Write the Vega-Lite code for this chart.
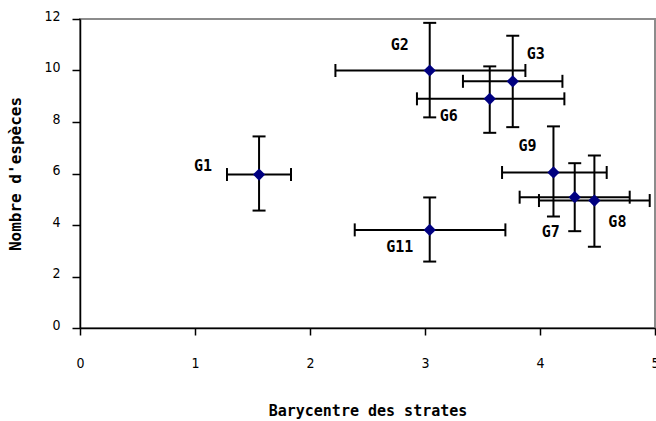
{
  "$schema": "https://vega.github.io/schema/vega-lite/v6.json",
  "width": 575,
  "height": 309,
  "autosize": {"type": "none"},
  "padding": {"left": 80, "top": 19, "right": 1, "bottom": 93},
  "background": "white",
  "config": {
    "view": {"stroke": "#8c8c8c", "strokeWidth": 2},
    "axis": {
      "grid": false,
      "domainColor": "black",
      "domainWidth": 1.5,
      "tickColor": "black",
      "tickWidth": 1.5,
      "labelColor": "black",
      "labelFont": "Liberation Sans Narrow, DejaVu Sans Condensed, Roboto, sans-serif",
      "labelFontSize": 14,
      "format": "d",
      "titleColor": "black",
      "titleFont": "DejaVu Sans Mono",
      "titleFontWeight": "bold"
    },
    "axisX": {"tickSize": 7, "labelPadding": 21, "labelFlush": false, "titleFontSize": 15, "titlePadding": 33},
    "axisY": {"tickSize": 8, "labelPadding": 12, "labelOffset": -3, "titleFontSize": 16, "titlePadding": 20}
  },
  "data": {
    "values": [
      {"g": "G1", "x": 1.557, "xlo": 1.278, "xhi": 1.835, "y": 5.96, "ylo": 4.56, "yhi": 7.44},
      {"g": "G2", "x": 3.041, "xlo": 2.221, "xhi": 3.873, "y": 10.0, "ylo": 8.18, "yhi": 11.85},
      {"g": "G3", "x": 3.763, "xlo": 3.33, "xhi": 4.195, "y": 9.58, "ylo": 7.8, "yhi": 11.35},
      {"g": "G6", "x": 3.563, "xlo": 2.93, "xhi": 4.212, "y": 8.9, "ylo": 7.58, "yhi": 10.16},
      {"g": "G9", "x": 4.117, "xlo": 3.67, "xhi": 4.58, "y": 6.04, "ylo": 4.33, "yhi": 7.83},
      {"g": "G7", "x": 4.302, "xlo": 3.823, "xhi": 4.78, "y": 5.08, "ylo": 3.76, "yhi": 6.4},
      {"g": "G8", "x": 4.473, "xlo": 3.991, "xhi": 4.954, "y": 4.95, "ylo": 3.16, "yhi": 6.7},
      {"g": "G11", "x": 3.041, "xlo": 2.389, "xhi": 3.699, "y": 3.81, "ylo": 2.58, "yhi": 5.07}
    ]
  },
  "layer": [
    {
      "mark": {"type": "rule", "color": "black", "strokeWidth": 2},
      "encoding": {
        "x": {"field": "xlo", "type": "quantitative", "title": "Barycentre des strates", "scale": {"domain": [0, 5], "nice": false, "zero": false}, "axis": {"values": [0, 1, 2, 3, 4, 5], "format": "d"}},
        "x2": {"field": "xhi"},
        "y": {"field": "y", "type": "quantitative", "title": "Nombre d'espèces", "scale": {"domain": [0, 12], "nice": false}, "axis": {"values": [0, 2, 4, 6, 8, 10, 12], "format": "d"}}
      }
    },
    {
      "mark": {"type": "rule", "color": "black", "strokeWidth": 2},
      "encoding": {
        "x": {"field": "x", "type": "quantitative", "title": "Barycentre des strates"},
        "y": {"field": "ylo", "type": "quantitative", "title": "Nombre d'espèces"},
        "y2": {"field": "yhi"}
      }
    },
    {
      "mark": {"type": "tick", "orient": "vertical", "color": "black", "size": 13, "thickness": 2, "opacity": 1},
      "encoding": {
        "x": {"field": "xlo", "type": "quantitative", "title": "Barycentre des strates"},
        "y": {"field": "y", "type": "quantitative", "title": "Nombre d'espèces"}
      }
    },
    {
      "mark": {"type": "tick", "orient": "vertical", "color": "black", "size": 13, "thickness": 2, "opacity": 1},
      "encoding": {
        "x": {"field": "xhi", "type": "quantitative", "title": "Barycentre des strates"},
        "y": {"field": "y", "type": "quantitative", "title": "Nombre d'espèces"}
      }
    },
    {
      "mark": {"type": "tick", "orient": "horizontal", "color": "black", "size": 13, "thickness": 2, "opacity": 1},
      "encoding": {
        "x": {"field": "x", "type": "quantitative", "title": "Barycentre des strates"},
        "y": {"field": "ylo", "type": "quantitative", "title": "Nombre d'espèces"}
      }
    },
    {
      "mark": {"type": "tick", "orient": "horizontal", "color": "black", "size": 13, "thickness": 2, "opacity": 1},
      "encoding": {
        "x": {"field": "x", "type": "quantitative", "title": "Barycentre des strates"},
        "y": {"field": "yhi", "type": "quantitative", "title": "Nombre d'espèces"}
      }
    },
    {
      "mark": {"type": "point", "shape": "diamond", "filled": true, "color": "#000080", "size": 150, "opacity": 1},
      "encoding": {
        "x": {"field": "x", "type": "quantitative", "title": "Barycentre des strates"},
        "y": {"field": "y", "type": "quantitative", "title": "Nombre d'espèces"}
      }
    },
    {
      "mark": {
        "type": "text",
        "font": "DejaVu Sans Mono",
        "fontWeight": "bold",
        "fontSize": 15,
        "color": "black",
        "align": "center",
        "baseline": "middle",
        "dx": {"expr": "datum.g=='G1'?-56:datum.g=='G2'?-30:datum.g=='G3'?23:datum.g=='G6'?-41:datum.g=='G9'?-26:datum.g=='G7'?-24:datum.g=='G8'?23:-30"},
        "dy": {"expr": "datum.g=='G1'?-9:datum.g=='G2'?-26:datum.g=='G3'?-27:datum.g=='G6'?17:datum.g=='G9'?-26:datum.g=='G7'?35:datum.g=='G8'?21:17"}
      },
      "encoding": {
        "x": {"field": "x", "type": "quantitative", "title": "Barycentre des strates"},
        "y": {"field": "y", "type": "quantitative", "title": "Nombre d'espèces"},
        "text": {"field": "g"}
      }
    }
  ]
}
